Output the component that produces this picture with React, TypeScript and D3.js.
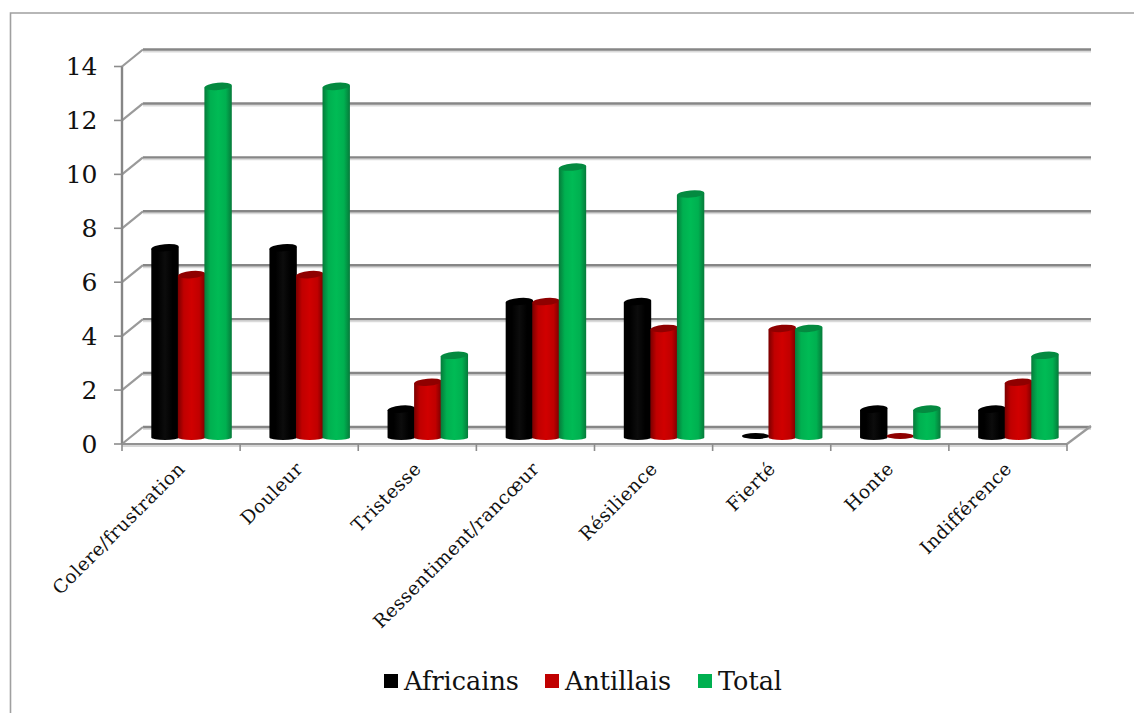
import React from "react";
import * as d3 from "d3";

const categories = ["Colere/frustration", "Douleur", "Tristesse", "Ressentiment/rancœur", "Résilience", "Fierté", "Honte", "Indifférence"];
const africains = [7, 7, 1, 5, 5, 0, 1, 1];
const antillais = [6, 6, 2, 5, 4, 4, 0, 2];
const total = [13, 13, 3, 10, 9, 4, 1, 3];
const yTicks = [0, 2, 4, 6, 8, 10, 12, 14];
const seriesNames = ["Africains", "Antillais", "Total"];

const WIDTH = 1134;
const HEIGHT = 713;
const FONT = "'DejaVu Serif', serif";
const DEPTH_X = 21;
const DEPTH_Y = -17;
const GRID = "#868686";

// Each series: shadow edge, mid, highlight, cap colour, legend swatch
const palettes = [
  { edge: "#000000", mid: "#000000", light: "#0c0c0c", cap: "#000000", flat: "#000000" },
  { edge: "#7a0000", mid: "#c00000", light: "#d00000", cap: "#8f0000", flat: "#c00000" },
  { edge: "#067a3a", mid: "#00b050", light: "#00bb55", cap: "#048a40", flat: "#00b050" },
];

const seriesValues = [africains, antillais, total];

const xFront = d3.scaleBand<number>().domain(d3.range(categories.length)).range([122, 1067]);
const yFront = d3.scaleLinear().domain([0, 14]).range([444, 66.5]);
const yBar = d3.scaleLinear().domain([0, 14]).range([436, 59.5]);

const barWidth = 27.4;
const barRx = barWidth / 2;
const barRy = 3.6;

function barCenter(cat: number, s: number) {
  return (xFront(cat) as number) + 43 + s * 26.55;
}

function Cylinder({ cx, value, s }: { cx: number; value: number; s: number }) {
  const p = palettes[s];
  const top = yBar(value);
  const base = yBar(0);
  if (value === 0) {
    return <ellipse cx={cx} cy={base} rx={barRx} ry={barRy - 0.6} fill={p.cap} />;
  }
  const l = cx - barRx;
  const r = cx + barRx;
  const body = `M${l},${top + 1} L${l},${base + 1.5} A${barRx},2.4 0 0 0 ${r},${base + 1.5} L${r},${top - 1} Z`;
  return (
    <g>
      <path d={body} fill={`url(#cyl-${s})`} />
      <ellipse cx={cx} cy={top} rx={barRx} ry={barRy} fill={p.cap} transform={`rotate(-5 ${cx} ${top})`} />
    </g>
  );
}

export default function App() {
  return (
    <svg width={WIDTH} height={HEIGHT} style={{ position: "absolute", left: 0, top: 0, background: "#fff" }}>
      <defs>
        {palettes.map((p, i) => (
          <linearGradient key={i} id={`cyl-${i}`} x1="0" x2="1" y1="0" y2="0">
            <stop offset="0" stopColor={p.edge} />
            <stop offset="0.22" stopColor={p.mid} />
            <stop offset="0.5" stopColor={p.light} />
            <stop offset="0.78" stopColor={p.mid} />
            <stop offset="1" stopColor={p.edge} />
          </linearGradient>
        ))}
      </defs>

      {/* outer chart frame, open on the right and at the bottom */}
      <path d={`M10.5,${HEIGHT} V13 H${WIDTH}`} fill="none" stroke="#a0a0a0" strokeWidth={1.6} />

      {/* back-wall gridlines and their returns onto the side wall */}
      {yTicks.map((t) => {
        const y = yFront(t);
        return (
          <g key={t} fill="none">
            <line x1={122 + DEPTH_X} x2={1067 + DEPTH_X + 3} y1={y + DEPTH_Y + 2} y2={y + DEPTH_Y + 2} stroke="#dadada" strokeWidth={2} />
            <line x1={122 + DEPTH_X} x2={1067 + DEPTH_X + 3} y1={y + DEPTH_Y} y2={y + DEPTH_Y} stroke={GRID} strokeWidth={2.4} />
            <line x1={122} x2={122 + DEPTH_X} y1={y} y2={y + DEPTH_Y} stroke="#9a9a9a" strokeWidth={2.2} />
          </g>
        );
      })}

      {/* right edge of the floor */}
      <line x1={1067} y1={444} x2={1067 + DEPTH_X + 3} y2={444 + DEPTH_Y - 1} stroke="#9a9a9a" strokeWidth={2.2} />

      {/* front axes */}
      <line x1={122} x2={122} y1={yFront(14)} y2={444} stroke={GRID} strokeWidth={2.4} />
      <line x1={122} x2={1067} y1={446} y2={446} stroke="#d6d6d6" strokeWidth={2} />
      <line x1={122} x2={1067} y1={444} y2={444} stroke="#929292" strokeWidth={2} />
      {yTicks.map((t) => (
        <line key={t} x1={114} x2={122} y1={yFront(t)} y2={yFront(t)} stroke="#8c8c8c" strokeWidth={1.6} />
      ))}
      {d3.range(categories.length + 1).map((i) => {
        const x = 122 + i * xFront.step();
        return <line key={i} x1={x} x2={x} y1={444} y2={451} stroke="#8c8c8c" strokeWidth={1.6} />;
      })}

      {/* cylinders */}
      {categories.map((_, c) => (
        <g key={c}>
          {seriesValues.map((vals, s) => (
            <Cylinder key={s} cx={barCenter(c, s)} value={vals[c]} s={s} />
          ))}
        </g>
      ))}

      {/* value axis labels */}
      {yTicks.map((t) => (
        <text key={t} x={97.5} y={yFront(t) + 8.5} textAnchor="end" fontFamily={FONT} fontSize={25} fill="#111">
          {t}
        </text>
      ))}

      {/* slanted category labels */}
      {categories.map((name, c) => {
        const x = (xFront(c) as number) + xFront.bandwidth() / 2 + 5;
        return (
          <text
            key={name}
            transform={`translate(${x},470) rotate(-45)`}
            textAnchor="end"
            fontFamily={FONT}
            fontSize={18.5}
            letterSpacing={0.5}
            fill="#111"
          >
            {name}
          </text>
        );
      })}

      {/* legend */}
      {seriesNames.map((name, i) => {
        const xs = [384, 545, 698];
        return (
          <g key={name}>
            <rect x={xs[i]} y={674} width={14} height={14} fill={palettes[i].flat} />
            <text x={xs[i] + 20} y={690} fontFamily={FONT} fontSize={25.5} fill="#111">
              {name}
            </text>
          </g>
        );
      })}
    </svg>
  );
}
